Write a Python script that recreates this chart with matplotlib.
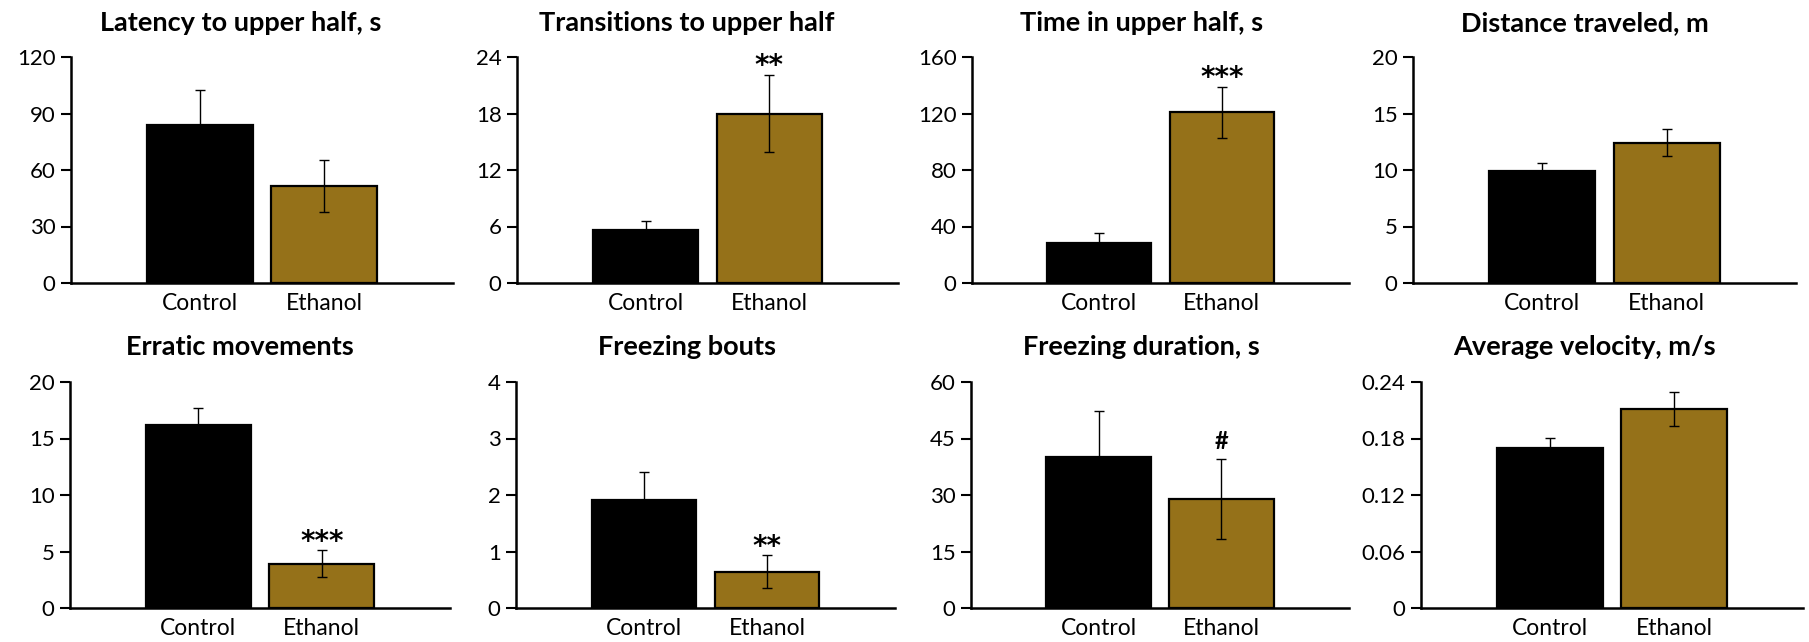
import matplotlib.pyplot as plt

plt.rcParams['font.family'] = ['Lato', 'DejaVu Sans']

groups = ["Control", "Ethanol"]
bar_colors = ["#000000", "#957119"]

titles = [
    "Latency to upper half, s", "Transitions to upper half",
    "Time in upper half, s", "Distance traveled, m",
    "Erratic movements", "Freezing bouts",
    "Freezing duration, s", "Average velocity, m/s",
]

# group means and SEM for each measure
means = [
    [83.8, 51.5], [5.6, 18.0], [28.5, 120.8], [9.9, 12.4],
    [16.2, 3.9], [1.91, 0.64], [40.0, 29.0], [0.170, 0.211],
]
sems = [
    [18.5, 14.0], [1.0, 4.1], [6.6, 18.2], [0.7, 1.2],
    [1.5, 1.2], [0.5, 0.29], [12.3, 10.6], [0.011, 0.018],
]
yticks = [
    [0, 30, 60, 90, 120], [0, 6, 12, 18, 24], [0, 40, 80, 120, 160],
    [0, 5, 10, 15, 20], [0, 5, 10, 15, 20], [0, 1, 2, 3, 4],
    [0, 15, 30, 45, 60], [0, 0.06, 0.12, 0.18, 0.24],
]
ytick_labels = [
    None, None, None, None, None, None, None,
    ["0", "0.06", "0.12", "0.18", "0.24"],
]
# significance marks over the ethanol bar
marks = ["", "**", "***", "", "***", "**", "#", ""]

W, H = 1809, 642
fig = plt.figure(figsize=(W / 100, H / 100), dpi=100)

# axes boxes in pixels: (left, right, top, bottom)
boxes = [
    (71, 453, 57, 283), (517, 898, 57, 283), (972, 1349, 57, 283), (1413, 1796, 57, 283),
    (70, 450, 382, 608), (516, 895, 382, 608), (971, 1349, 382, 608), (1421, 1803, 382, 608),
]
title_x = [241, 687, 1142, 1585, 240, 687, 1141, 1584]
title_y = [23, 23, 23, 23, 347, 347, 347, 347]

for i in range(8):
    l, r, t, b = boxes[i]
    ax = fig.add_axes([l / W, 1 - b / H, (r - l) / W, (b - t) / H])
    x = [0, 1]
    ax.bar(x, means[i], width=0.85, color=bar_colors, edgecolor="black",
           linewidth=1.6, zorder=2)
    ax.errorbar(x, means[i], yerr=sems[i], fmt="none", ecolor="black",
                elinewidth=1.0, capsize=3.5, capthick=1.0, zorder=3)
    ax.set_xlim(-1.04, 2.04)
    ax.set_ylim(yticks[i][0], yticks[i][-1])
    ax.set_yticks(yticks[i])
    if ytick_labels[i]:
        ax.set_yticklabels(ytick_labels[i])
    ax.set_xticks(x)
    ax.set_xticklabels(groups)
    for side in ["top", "right"]:
        ax.spines[side].set_visible(False)
    for side in ["left", "bottom"]:
        ax.spines[side].set_linewidth(1.8)
    ax.tick_params(axis="y", length=7, width=1.5, labelsize=16, pad=4)
    ax.tick_params(axis="x", length=0, labelsize=16.5, pad=7)
    if marks[i]:
        top = means[i][1] + sems[i][1]
        if marks[i] == "#":
            ax.annotate(marks[i], (1, top), xytext=(0, 4), textcoords="offset points",
                        ha="center", va="bottom", fontsize=17, fontweight="bold")
        else:
            ax.annotate(marks[i], (1, top), xytext=(0, 0.5),
                        textcoords="offset points", ha="center", va="baseline",
                        fontsize=20, fontweight="bold", family="DejaVu Sans")
    fig.text(title_x[i] / W, 1 - title_y[i] / H, titles[i], ha="center", va="center",
             fontsize=19.5, fontweight="bold")

fig.savefig("out.png", dpi=100, facecolor="white")
